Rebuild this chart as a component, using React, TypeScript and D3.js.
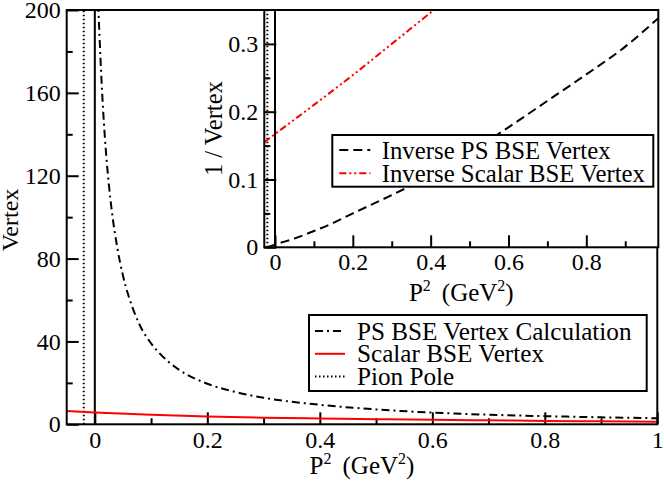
import { useEffect, useRef } from "react";
import * as d3 from "d3";

// main panel: PS BSE vertex (dash-dot) and scalar BSE vertex (red)
const psP2 = [0.006, 0.01, 0.015, 0.02, 0.025, 0.03, 0.04, 0.05, 0.06, 0.07, 0.08, 0.1, 0.12, 0.15, 0.2, 0.25, 0.3, 0.4, 0.5, 0.6, 0.7, 0.8, 0.9, 1.0];
const psVertex = [203, 176.9, 150.5, 130.8, 115.6, 103.4, 85.2, 71.8, 61.9, 54.2, 47.8, 39.1, 32.9, 26.3, 19.6, 15.6, 12.8, 9.42, 7.18, 5.64, 4.63, 3.94, 3.38, 2.93];

const scalarP2 = [-0.05, 0, 0.1, 0.2, 0.3, 0.4, 0.5, 0.6, 0.7, 0.8, 0.9, 1.0];
const scalarVertex = [6.4, 5.7, 4.6, 3.8, 3.2, 2.8, 2.45, 2.15, 1.9, 1.65, 1.45, 1.25];

// inset: inverse vertices
const invPsP2 = [-0.0196, 0, 0.05, 0.1, 0.15, 0.2, 0.3, 0.4, 0.5, 0.6, 0.7, 0.8, 0.9, 0.985];
const invPs = [0, 0.004, 0.013, 0.024, 0.036, 0.05, 0.077, 0.106, 0.14, 0.177, 0.216, 0.255, 0.296, 0.338];

const invScalarP2 = [-0.0275, 0, 0.1, 0.2, 0.3, 0.408];
const invScalar = [0.155, 0.167, 0.21, 0.254, 0.3, 0.35];

const pionPole = -0.0196;

const mainXTicks = [0, 0.2, 0.4, 0.6, 0.8, 1];
const mainXMinor = [0.1, 0.3, 0.5, 0.7, 0.9];
const mainYTicks = [0, 40, 80, 120, 160, 200];
const mainYMinor = [20, 60, 100, 140, 180];
const insetXTicks = [0, 0.2, 0.4, 0.6, 0.8];
const insetXMinor = [0.1, 0.3, 0.5, 0.7, 0.9];
const insetYTicks = [0, 0.1, 0.2, 0.3];
const insetYMinor = [0.05, 0.15, 0.25];

const mainLegend = ["PS BSE Vertex Calculation", "Scalar BSE Vertex", "Pion Pole"];
const insetLegend = ["Inverse PS BSE Vertex", "Inverse Scalar BSE Vertex"];

const FONT = "Liberation Serif";
const DASHDOT = "8,4,2,4";
const DASHED = "9,5";
const DASHDOTDOT = "7,3,2,3,2,3";
const DOTTED = "1.5,2.5";

export default function App() {
  const svgRef = useRef<SVGSVGElement | null>(null);

  useEffect(() => {
    const svg = d3.select(svgRef.current);
    svg.selectAll("*").remove();
    const width = 664;
    const height = 487;
    svg.attr("width", width).attr("height", height).attr("viewBox", `0 0 ${width} ${height}`);
    svg.append("rect").attr("width", width).attr("height", height).attr("fill", "white");

    const fmt = (d: d3.NumberValue) => String(+d);

    // ---------- main panel ----------
    const x = d3.scaleLinear().domain([-0.05, 1]).range([66.7, 657.3]);
    const y = d3.scaleLinear().domain([0, 200]).range([424.3, 10]);

    const main = svg.append("g");

    const styleAxis = (g: d3.Selection<SVGGElement, unknown, null, undefined>) => {
      g.select(".domain").remove();
      g.selectAll("line").attr("stroke", "black").attr("stroke-width", 2);
      g.selectAll("text").attr("font-family", FONT).attr("font-size", 24).attr("fill", "black");
    };

    main.append("g")
      .attr("transform", `translate(0,${y(0)})`)
      .call(d3.axisBottom(x).tickValues(mainXTicks).tickSize(-12).tickPadding(7).tickFormat(fmt))
      .call(styleAxis);
    main.append("g")
      .attr("transform", `translate(0,${y(0)})`)
      .call(d3.axisBottom(x).tickValues(mainXMinor).tickSize(-6).tickFormat(() => ""))
      .call(styleAxis);
    main.append("g")
      .attr("transform", `translate(${x(-0.05)},0)`)
      .call(d3.axisLeft(y).tickValues(mainYTicks).tickSize(-12).tickPadding(6).tickFormat(fmt))
      .call(styleAxis);
    main.append("g")
      .attr("transform", `translate(${x(-0.05)},0)`)
      .call(d3.axisLeft(y).tickValues(mainYMinor).tickSize(-6).tickFormat(() => ""))
      .call(styleAxis);

    // zero line and pion pole
    main.append("line")
      .attr("x1", x(0)).attr("x2", x(0)).attr("y1", y(0)).attr("y2", y(200))
      .attr("stroke", "black").attr("stroke-width", 2);
    main.append("line")
      .attr("x1", x(pionPole)).attr("x2", x(pionPole)).attr("y1", y(0)).attr("y2", y(200))
      .attr("stroke", "black").attr("stroke-width", 2).attr("stroke-dasharray", DOTTED);

    main.append("clipPath").attr("id", "mainClip")
      .append("rect")
      .attr("x", x(-0.05)).attr("y", y(200))
      .attr("width", x(1) - x(-0.05)).attr("height", y(0) - y(200));

    const mainLine = d3.line<number>().curve(d3.curveMonotoneX);

    main.append("path")
      .attr("clip-path", "url(#mainClip)")
      .attr("d", mainLine.x((_, i) => x(psP2[i])).y((d) => y(d))(psVertex))
      .attr("fill", "none").attr("stroke", "black").attr("stroke-width", 2)
      .attr("stroke-dasharray", DASHDOT);
    main.append("path")
      .attr("d", mainLine.x((_, i) => x(scalarP2[i])).y((d) => y(d))(scalarVertex))
      .attr("fill", "none").attr("stroke", "#ff0000").attr("stroke-width", 2);

    main.append("rect")
      .attr("x", x(-0.05)).attr("y", y(200))
      .attr("width", x(1) - x(-0.05)).attr("height", y(0) - y(200))
      .attr("fill", "none").attr("stroke", "black").attr("stroke-width", 2);

    // main legend
    const leg = main.append("g").attr("transform", "translate(309,315)");
    leg.append("rect").attr("width", 337.7).attr("height", 76)
      .attr("fill", "white").attr("stroke", "black").attr("stroke-width", 2);
    const legStyles = [
      { stroke: "black", dash: DASHDOT },
      { stroke: "#ff0000", dash: "none" },
      { stroke: "black", dash: DOTTED },
    ];
    mainLegend.forEach((label, i) => {
      const cy = 16 + i * 22.8;
      leg.append("line")
        .attr("x1", 6).attr("x2", 36).attr("y1", cy).attr("y2", cy)
        .attr("stroke", legStyles[i].stroke).attr("stroke-width", 2)
        .attr("stroke-dasharray", legStyles[i].dash);
      leg.append("text")
        .attr("x", 48).attr("y", cy + 8.5)
        .attr("font-family", FONT).attr("font-size", 25.2)
        .text(label);
    });

    // axis titles
    const xTitle = main.append("text")
      .attr("x", (x(-0.05) + x(1)) / 2).attr("y", 474)
      .attr("text-anchor", "middle")
      .attr("font-family", FONT).attr("font-size", 25);
    const supTitle = (t: d3.Selection<SVGTextElement, unknown, null, undefined>) => {
      t.append("tspan").text("P");
      t.append("tspan").attr("font-size", 16).attr("dy", -10).text("2");
      t.append("tspan").attr("dy", 10).attr("dx", 11).text("(GeV");
      t.append("tspan").attr("font-size", 16).attr("dy", -10).text("2");
      t.append("tspan").attr("dy", 10).text(")");
    };
    supTitle(xTitle);

    main.append("text")
      .attr("transform", `translate(18,220) rotate(-90)`)
      .attr("text-anchor", "middle")
      .attr("font-family", FONT).attr("font-size", 24)
      .text("Vertex");

    // ---------- inset ----------
    const ix = d3.scaleLinear().domain([-0.0275, 0.985]).range([264.3, 658.3]);
    const iy = d3.scaleLinear().domain([0, 0.35]).range([247.3, 10]);
    const inset = svg.append("g");

    inset.append("rect")
      .attr("x", ix(-0.0275)).attr("y", iy(0.35))
      .attr("width", ix(0.985) - ix(-0.0275)).attr("height", iy(0) - iy(0.35))
      .attr("fill", "white");

    inset.append("line")
      .attr("x1", ix(0)).attr("x2", ix(0)).attr("y1", iy(0)).attr("y2", iy(0.35))
      .attr("stroke", "black").attr("stroke-width", 2);
    inset.append("line")
      .attr("x1", ix(pionPole)).attr("x2", ix(pionPole)).attr("y1", iy(0)).attr("y2", iy(0.35))
      .attr("stroke", "black").attr("stroke-width", 2).attr("stroke-dasharray", DOTTED);

    inset.append("g")
      .attr("transform", `translate(0,${iy(0)})`)
      .call(d3.axisBottom(ix).tickValues(insetXTicks).tickSize(-12).tickPadding(6).tickFormat(fmt))
      .call(styleAxis);
    inset.append("g")
      .attr("transform", `translate(0,${iy(0)})`)
      .call(d3.axisBottom(ix).tickValues(insetXMinor).tickSize(-6).tickFormat(() => ""))
      .call(styleAxis);
    inset.append("g")
      .attr("transform", `translate(${ix(-0.0275)},0)`)
      .call(d3.axisLeft(iy).tickValues(insetYTicks).tickSize(-12).tickPadding(6).tickFormat(fmt))
      .call(styleAxis);
    inset.append("g")
      .attr("transform", `translate(${ix(-0.0275)},0)`)
      .call(d3.axisLeft(iy).tickValues(insetYMinor).tickSize(-6).tickFormat(() => ""))
      .call(styleAxis);

    const insetLine = d3.line<number>().curve(d3.curveMonotoneX);
    inset.append("path")
      .attr("d", insetLine.x((_, i) => ix(invPsP2[i])).y((d) => iy(d))(invPs))
      .attr("fill", "none").attr("stroke", "black").attr("stroke-width", 2)
      .attr("stroke-dasharray", DASHED);
    inset.append("path")
      .attr("d", insetLine.x((_, i) => ix(invScalarP2[i])).y((d) => iy(d))(invScalar))
      .attr("fill", "none").attr("stroke", "#ff0000").attr("stroke-width", 2)
      .attr("stroke-dasharray", DASHDOTDOT);

    inset.append("rect")
      .attr("x", ix(-0.0275)).attr("y", iy(0.35))
      .attr("width", ix(0.985) - ix(-0.0275)).attr("height", iy(0) - iy(0.35))
      .attr("fill", "none").attr("stroke", "black").attr("stroke-width", 2);

    const ileg = inset.append("g").attr("transform", "translate(332.3,135)");
    ileg.append("rect").attr("width", 321).attr("height", 51.7)
      .attr("fill", "white").attr("stroke", "black").attr("stroke-width", 2);
    const ilegStyles = [
      { stroke: "black", dash: DASHED },
      { stroke: "#ff0000", dash: DASHDOTDOT },
    ];
    insetLegend.forEach((label, i) => {
      const cy = 15 + i * 23.3;
      ileg.append("line")
        .attr("x1", 7).attr("x2", 38).attr("y1", cy).attr("y2", cy)
        .attr("stroke", ilegStyles[i].stroke).attr("stroke-width", 2)
        .attr("stroke-dasharray", ilegStyles[i].dash);
      ileg.append("text")
        .attr("x", 49.4).attr("y", cy + 8.5)
        .attr("font-family", FONT).attr("font-size", 24.8)
        .text(label);
    });

    const ixTitle = inset.append("text")
      .attr("x", (ix(-0.0275) + ix(0.985)) / 2).attr("y", 301)
      .attr("text-anchor", "middle")
      .attr("font-family", FONT).attr("font-size", 25);
    supTitle(ixTitle);

    inset.append("text")
      .attr("transform", `translate(222,128.6) rotate(-90)`)
      .attr("text-anchor", "middle")
      .attr("font-family", FONT).attr("font-size", 24.5)
      .text("1 / Vertex");
  }, []);

  return (
    <div style={{ position: "absolute", left: 0, top: 0 }}>
      <svg ref={svgRef} style={{ display: "block" }} />
    </div>
  );
}
